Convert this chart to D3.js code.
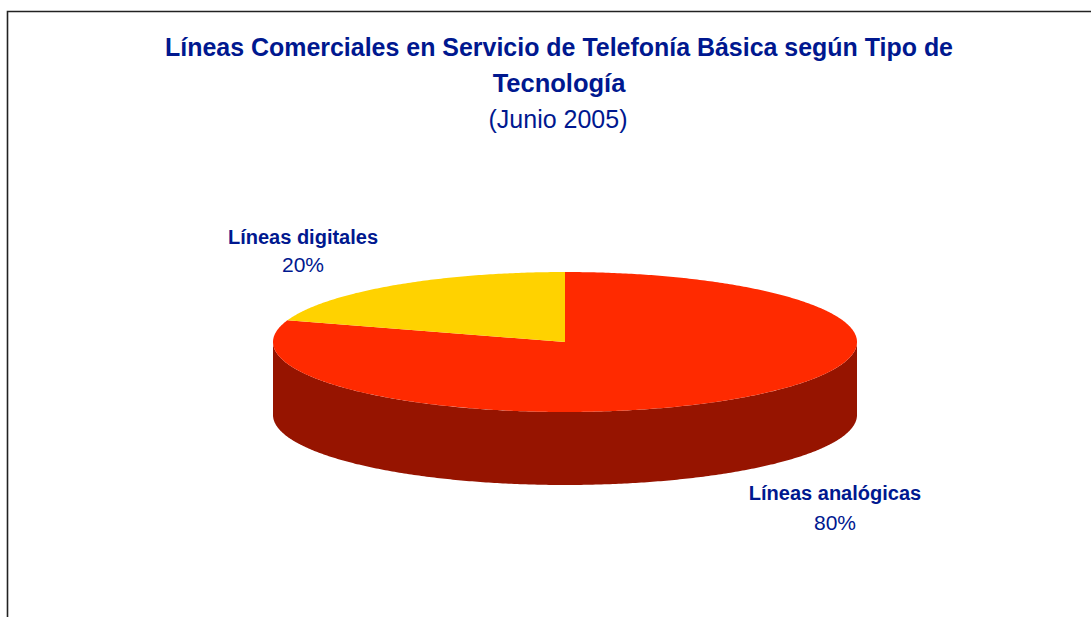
<!DOCTYPE html>
<html>
<head>
<meta charset="utf-8">
<script src="https://cdn.jsdelivr.net/npm/d3@7"></script>
<style>
  html, body { margin: 0; padding: 0; background: #fff; }
  svg { display: block; }
</style>
</head>
<body>
<svg id="chart" width="1091" height="617"></svg>
<script>
// ---- data ----
const categories = ["Líneas analógicas", "Líneas digitales"];
const values = [80, 20];
const percentLabels = ["80%", "20%"];
const titleLines = ["Líneas Comerciales en Servicio de Telefonía Básica según Tipo de", "Tecnología"];
const subtitle = "(Junio 2005)";

// ---- styles ----
const topColors = ["#ff2a00", "#ffd200"];
const sideColors = ["#961400", "#a08400"];
const textColor = "#00188f";
const font = "'Liberation Sans', Arial, sans-serif";

const svg = d3.select("#chart");
const W = 1091, H = 617;

// frame
svg.append("path")
  .attr("d", `M7.5,${H + 2} V11.5 H${W + 2}`)
  .attr("fill", "none").attr("stroke", "#222").attr("stroke-width", 1.6);

// titles
svg.append("text").attr("x", 559).attr("y", 56)
  .attr("text-anchor", "middle").attr("font-family", font).attr("font-weight", "bold")
  .attr("font-size", 25.5).attr("textLength", 788).attr("lengthAdjust", "spacingAndGlyphs")
  .attr("fill", textColor).text(titleLines[0]);
svg.append("text").attr("x", 559).attr("y", 92)
  .attr("text-anchor", "middle").attr("font-family", font).attr("font-weight", "bold")
  .attr("font-size", 25.5).attr("fill", textColor).text(titleLines[1]);
svg.append("text").attr("x", 558).attr("y", 128)
  .attr("text-anchor", "middle").attr("font-family", font)
  .attr("font-size", 25).attr("fill", textColor).text(subtitle);

// ---- 3D pie ----
const cx = 565, cy = 342, rx = 292, ry = 70, depth = 73;
const pie = d3.pie().sort(null).value(d => d)(values);

const px = a => cx + rx * Math.sin(a);
const py = a => cy - ry * Math.cos(a);

function arcPoints(a0, a1, dy) {
  const n = Math.max(2, Math.ceil(Math.abs(a1 - a0) / 0.01));
  const pts = [];
  for (let i = 0; i <= n; i++) {
    const a = a0 + (a1 - a0) * i / n;
    pts.push([px(a), py(a) + dy]);
  }
  return pts;
}

const g = svg.append("g");

// side walls (front half: angles between PI/2 and 3PI/2)
pie.forEach((d, i) => {
  const s = Math.max(d.startAngle, Math.PI / 2);
  const e = Math.min(d.endAngle, 3 * Math.PI / 2);
  if (e <= s) return;
  const top = arcPoints(s, e, 0);
  const bot = arcPoints(e, s, depth);
  g.append("path")
    .attr("d", d3.line()(top.concat(bot)) + "Z")
    .attr("fill", sideColors[i]);
});

// top faces
pie.forEach((d, i) => {
  const pts = [[cx, cy]].concat(arcPoints(d.startAngle, d.endAngle, 0));
  g.append("path")
    .attr("d", d3.line()(pts) + "Z")
    .attr("fill", topColors[i]);
});

// labels
const labelPos = [[835, 500, 530], [303, 244, 272]];
pie.forEach((d, i) => {
  const [x, y1, y2] = labelPos[i];
  svg.append("text").attr("x", x).attr("y", y1)
    .attr("text-anchor", "middle").attr("font-family", font).attr("font-weight", "bold")
    .attr("font-size", 20).attr("fill", textColor).text(categories[i]);
  svg.append("text").attr("x", x).attr("y", y2)
    .attr("text-anchor", "middle").attr("font-family", font)
    .attr("font-size", 21).attr("fill", textColor).text(percentLabels[i]);
});
</script>
</body>
</html>
